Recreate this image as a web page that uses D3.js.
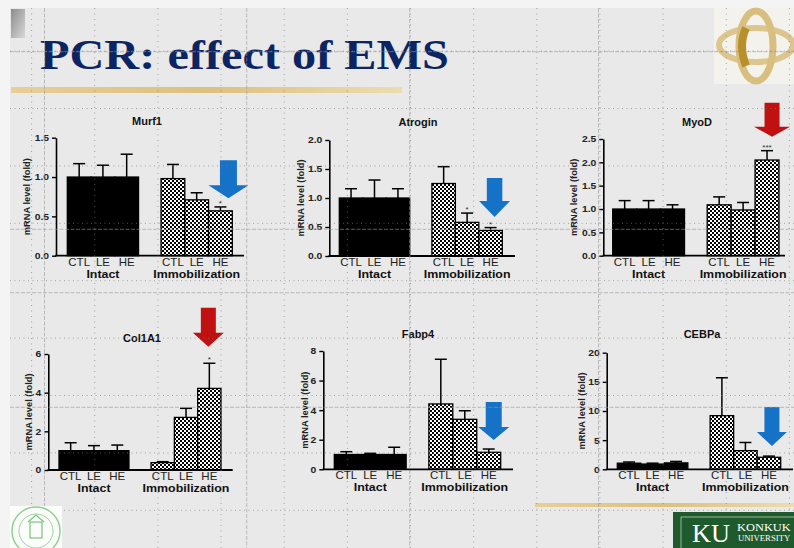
<!DOCTYPE html>
<html>
<head>
<meta charset="utf-8">
<style>
body { margin: 0; background: #f4f4f4; }
svg { display: block; }
</style>
</head>
<body>
<div id="slide"></div>
<script src="https://d3js.org/d3.v7.min.js"></script>
<script>
// data
var genes = ["Murf1", "Atrogin", "MyoD", "Col1A1", "Fabp4", "CEBPa"];
var groups = ["Intact", "Immobilization"];
var treatments = ["CTL", "LE", "HE"];

// order: Intact CTL, LE, HE, Immobilization CTL, LE, HE
var murf1Mean   = [1.00, 1.00, 1.00, 0.98, 0.71, 0.57];
var murf1Err    = [0.17, 0.15, 0.29, 0.18, 0.09, 0.05];
var atroginMean = [1.00, 1.00, 1.00, 1.25, 0.58, 0.44];
var atroginErr  = [0.16, 0.31, 0.16, 0.29, 0.16, 0.05];
var myodMean    = [1.00, 1.00, 1.00, 1.09, 0.98, 2.05];
var myodErr     = [0.18, 0.18, 0.09, 0.17, 0.16, 0.20];
var col1a1Mean  = [1.00, 1.00, 1.00, 0.38, 2.72, 4.22];
var col1a1Err   = [0.41, 0.26, 0.29, 0.05, 0.47, 1.30];
var fabp4Mean   = [1.00, 1.00, 1.00, 4.42, 3.38, 1.15];
var fabp4Err    = [0.19, 0.08, 0.49, 3.02, 0.58, 0.22];
var cebpaMean   = [1.05, 0.90, 1.10, 9.20, 3.20, 2.06];
var cebpaErr    = [0.20, 0.15, 0.25, 6.50, 1.40, 0.20];

var stars = [
  ["", "", "", "", "", "*"],
  ["", "", "", "", "*", "*"],
  ["", "", "", "", "", "***"],
  ["", "", "", "", "", "*"],
  ["", "", "", "", "", ""],
  ["", "", "", "", "", ""]
];

var yMaxes = [1.5, 2.0, 2.5, 6, 8, 20];
var yTicks = [
  [0, 0.5, 1.0, 1.5],
  [0, 0.5, 1.0, 1.5, 2.0],
  [0, 0.5, 1.0, 1.5, 2.0, 2.5],
  [0, 2, 4, 6],
  [0, 2, 4, 6, 8],
  [0, 5, 10, 15, 20]
];
var tickFormats = [".1f", ".1f", ".1f", "d", "d", "d"];
var arrowColors = ["#1672c6", "#1672c6", "#c01010", "#c01010", "#1672c6", "#1672c6"];

var means = [murf1Mean, atroginMean, myodMean, col1a1Mean, fabp4Mean, cebpaMean];
var errs = [murf1Err, atroginErr, myodErr, col1a1Err, fabp4Err, cebpaErr];

// where each little graph sits on the slide
var panels = [
  {ax: 56,    l: 67.3,  r: 232.3, end: 244, top: 137.7, y0: 255.7, tx: 147, ty: 125,   lab: 29, arrow: {dx: 8,  gap: 8.7, w: 40, h: 38, sw: 17, hh: 13}},
  {ax: 329.3, l: 339.3, r: 502.3, end: 515, top: 140,   y0: 256,   tx: 418, ty: 126,   lab: 29, arrow: {dx: 4,  gap: 10.6, w: 31, h: 39, sw: 15.5, hh: 16}},
  {ax: 603.3, l: 612.7, r: 779,   end: 785, top: 139,   y0: 255.7, tx: 697, ty: 126,   lab: 30, arrow: {dx: 5,  gap: 14, w: 36, h: 34, sw: 15, hh: 10}},
  {ax: 48.3,  l: 59,    r: 221,   end: 232.7, top: 354, y0: 470,   tx: 142, ty: 341.5, lab: 20, arrow: {dx: -1, gap: 16.6, w: 31, h: 39, sw: 15, hh: 14}},
  {ax: 323.3, l: 334.3, r: 500.7, end: 513, top: 351,   y0: 469.3, tx: 418, ty: 337.5, lab: 19, arrow: {dx: 5,  gap: 9, w: 31, h: 38, sw: 16, hh: 13}},
  {ax: 606.7, l: 617.3, r: 780.7, end: 793, top: 352.7, y0: 469.3, tx: 702, ty: 337.5, lab: 25, arrow: {dx: 3,  gap: 10, w: 30, h: 39, sw: 15, hh: 14}}
];

var W = 794, H = 548, sx = 1.15;
var sans = "'Liberation Sans', Arial, Helvetica, sans-serif";
var serif = "'Liberation Serif', 'Times New Roman', serif";

var svg = d3.select("#slide").append("svg").attr("width", W).attr("height", H);
var defs = svg.append("defs");

var pat = defs.append("pattern").attr("id", "check")
    .attr("width", 4).attr("height", 4).attr("patternUnits", "userSpaceOnUse");
pat.append("rect").attr("width", 4).attr("height", 4).attr("fill", "#fff");
pat.append("rect").attr("width", 2).attr("height", 2).attr("fill", "#000");
pat.append("rect").attr("x", 2).attr("y", 2).attr("width", 2).attr("height", 2).attr("fill", "#000");

var gold = defs.append("linearGradient").attr("id", "gold");
gold.append("stop").attr("offset", "0").attr("stop-color", "#e6cf98");
gold.append("stop").attr("offset", "0.5").attr("stop-color", "#dcc07e");
gold.append("stop").attr("offset", "1").attr("stop-color", "#ecdcb0");

var tab = defs.append("linearGradient").attr("id", "tab").attr("x1", 0).attr("y1", 0).attr("x2", 1).attr("y2", 1);
tab.append("stop").attr("offset", "0").attr("stop-color", "#8c8c8c");
tab.append("stop").attr("offset", "1").attr("stop-color", "#d8d8d8");

function stext(parent, x, y, str, size, weight, anchor, fam, fill, k) {
  return parent.append("text")
      .attr("transform", "translate(" + x + "," + y + ") scale(" + (k || sx) + ",1)")
      .attr("text-anchor", anchor || "middle")
      .style("font-family", fam || sans)
      .style("font-size", size + "px")
      .style("font-weight", weight || "normal")
      .attr("fill", fill || "#111")
      .text(str);
}

// slide background
svg.append("rect").attr("x", 10).attr("y", 8).attr("width", W - 10).attr("height", H - 8).attr("fill", "#e9e9e9");
svg.append("rect").attr("x", 11).attr("y", 9).attr("width", 14).attr("height", 29).attr("fill", "url(#tab)");

stext(svg, 40, 69, "PCR: effect of EMS", 42, "bold", "start", serif, "#0d2463");
svg.append("rect").attr("x", 11).attr("y", 87).attr("width", 391).attr("height", 6).attr("fill", "url(#gold)");
svg.append("rect").attr("x", 535).attr("y", 503).attr("width", 259).attr("height", 4).attr("fill", "url(#gold)");

// top right logo
var logo = svg.append("g");
logo.append("rect").attr("x", 714).attr("y", 8).attr("width", 80).attr("height", 76).attr("fill", "#f4f2ec");
logo.append("ellipse").attr("cx", 756).attr("cy", 45).attr("rx", 37).attr("ry", 17)
    .attr("fill", "none").attr("stroke", "#dcc68e").attr("stroke-width", 6);
logo.append("ellipse").attr("cx", 756).attr("cy", 46).attr("rx", 17).attr("ry", 35)
    .attr("fill", "none").attr("stroke", "#d8bf80").attr("stroke-width", 7);
logo.append("path").attr("d", "M746,28 Q738,45 746,66").attr("fill", "none")
    .attr("stroke", "#b88f2c").attr("stroke-width", 8);

// the six bar graphs
panels.forEach(function(p, i) {
  var g = svg.append("g");
  var y = d3.scaleLinear().domain([0, yMaxes[i]]).range([p.y0, p.top]);
  var xg = d3.scaleBand().domain(groups).range([p.l, p.r]).paddingInner(0.24);
  var xt = d3.scaleBand().domain(treatments).range([0, xg.bandwidth()]);

  var rows = [];
  groups.forEach(function(gr, gi) {
    treatments.forEach(function(t, ti) {
      var k = gi * 3 + ti;
      rows.push({group: gr, trt: t, mean: means[i][k], err: errs[i][k], star: stars[i][k]});
    });
  });
  function cx(d) { return xg(d.group) + xt(d.trt) + xt.bandwidth() / 2; }

  // error bars (upper only)
  var capW = 12;
  g.selectAll("line.err").data(rows).join("line")
      .attr("x1", cx).attr("x2", cx)
      .attr("y1", function(d) { return y(d.mean); })
      .attr("y2", function(d) { return y(d.mean + d.err); })
      .attr("stroke", "#000").attr("stroke-width", 1.5);
  g.selectAll("line.cap").data(rows).join("line")
      .attr("x1", function(d) { return cx(d) - capW / 2; })
      .attr("x2", function(d) { return cx(d) + capW / 2; })
      .attr("y1", function(d) { return y(d.mean + d.err); })
      .attr("y2", function(d) { return y(d.mean + d.err); })
      .attr("stroke", "#000").attr("stroke-width", 1.5);

  g.selectAll("rect.bar").data(rows).join("rect")
      .attr("x", function(d) { return xg(d.group) + xt(d.trt); })
      .attr("y", function(d) { return y(d.mean); })
      .attr("width", xt.bandwidth())
      .attr("height", function(d) { return y(0) - y(d.mean); })
      .attr("fill", function(d) { return d.group == "Intact" ? "#000" : "url(#check)"; })
      .attr("stroke", "#000").attr("stroke-width", 1.3);

  rows.forEach(function(d) {
    if (d.star) stext(g, cx(d), y(d.mean + d.err) - 1, d.star, 8, "normal", "middle", sans, "#333", 1);
  });

  // axes
  var axis = d3.axisLeft(y).tickValues(yTicks[i]).tickSize(4).tickSizeOuter(0)
      .tickFormat(d3.format(tickFormats[i]));
  var ag = g.append("g").attr("transform", "translate(" + p.ax + ",0)").call(axis)
      .style("font-family", sans);
  ag.select(".domain").attr("stroke-width", 1.6);
  ag.selectAll(".tick line").attr("stroke-width", 1.4);
  ag.selectAll(".tick text")
      .attr("transform", "scale(" + sx + ",1)")
      .attr("x", -7 / sx)
      .attr("fill", "#222")
      .style("font-size", "9px").style("font-weight", "bold");

  g.append("line").attr("x1", p.ax - 0.8).attr("x2", p.end)
      .attr("y1", y(0)).attr("y2", y(0))
      .attr("stroke", "#000").attr("stroke-width", 1.8);

  g.append("text")
      .attr("transform", "translate(" + (p.ax - p.lab) + "," + ((p.y0 + p.top) / 2) + ") rotate(-90)")
      .attr("text-anchor", "middle").attr("dy", "0.35em")
      .style("font-family", sans).style("font-size", "9.3px").style("font-weight", "bold")
      .attr("fill", "#222")
      .text("mRNA level (fold)");

  stext(g, p.tx, p.ty, genes[i], 10, "bold", "middle", sans, "#111", 1.1);

  rows.forEach(function(d) {
    stext(g, cx(d), y(0) + 10, d.trt, 10, "normal", "middle", sans, "#222");
  });
  groups.forEach(function(gr) {
    stext(g, xg(gr) + xg.bandwidth() / 2, y(0) + 22, gr, 10.8, "bold", "middle", sans, "#111");
  });

  // annotation arrow over the HE immobilization bar
  var he = rows[5], a = p.arrow;
  var ax0 = cx(he) + a.dx, tip = y(he.mean + he.err) - a.gap, top = tip - a.h, neck = tip - a.hh;
  g.append("path")
      .attr("d", "M" + (ax0 - a.sw / 2) + "," + top +
                 "L" + (ax0 + a.sw / 2) + "," + top +
                 "L" + (ax0 + a.sw / 2) + "," + neck +
                 "L" + (ax0 + a.w / 2) + "," + neck +
                 "L" + ax0 + "," + tip +
                 "L" + (ax0 - a.w / 2) + "," + neck +
                 "L" + (ax0 - a.sw / 2) + "," + neck + "Z")
      .attr("fill", arrowColors[i]);
});

// slide guide lines
var grid = svg.append("g").attr("fill", "none");
d3.range(13).forEach(function(k) {
  grid.append("line").attr("x1", 31.6 + k * 63.15).attr("x2", 31.6 + k * 63.15)
      .attr("y1", 8).attr("y2", H)
      .attr("stroke", "#7a7a7a").attr("stroke-opacity", 0.65).attr("stroke-dasharray", "1,4.5");
});
d3.range(9).forEach(function(k) {
  grid.append("line").attr("x1", 10).attr("x2", W)
      .attr("y1", 51.1 + k * 57.4).attr("y2", 51.1 + k * 57.4)
      .attr("stroke", "#7a7a7a").attr("stroke-opacity", 0.65).attr("stroke-dasharray", "1,3.5");
});
[44.5, 246.7, 409.7, 598.5].forEach(function(x) {
  grid.append("line").attr("x1", x).attr("x2", x).attr("y1", 8).attr("y2", H)
      .attr("stroke", "#9a9a9a").attr("stroke-opacity", 0.6).attr("stroke-dasharray", "4,1.5");
});
[51.7, 229.3, 292.7, 407.3].forEach(function(y) {
  grid.append("line").attr("x1", 10).attr("x2", W).attr("y1", y).attr("y2", y)
      .attr("stroke", "#9a9a9a").attr("stroke-opacity", 0.6).attr("stroke-dasharray", "4,1.5");
});

// bottom left seal
var seal = svg.append("g");
seal.append("rect").attr("x", 10).attr("y", 506).attr("width", 52).attr("height", 42).attr("fill", "#fbfdfb");
seal.append("circle").attr("cx", 36).attr("cy", 531).attr("r", 24).attr("fill", "none").attr("stroke", "#8fd08f").attr("stroke-width", 1.5);
seal.append("circle").attr("cx", 36).attr("cy", 531).attr("r", 17).attr("fill", "none").attr("stroke", "#9ad49a").attr("stroke-width", 1);
seal.append("rect").attr("x", 30).attr("y", 522).attr("width", 12).attr("height", 16).attr("fill", "none").attr("stroke", "#7cc47c").attr("stroke-width", 1.2);
seal.append("path").attr("d", "M28,522 L36,515 L44,522").attr("fill", "none").attr("stroke", "#7cc47c").attr("stroke-width", 1.2);

// bottom right university box
var ku = svg.append("g");
ku.append("rect").attr("x", 673).attr("y", 512).attr("width", 121).attr("height", 36).attr("fill", "#1f5a2c");
ku.append("rect").attr("x", 681).attr("y", 517).attr("width", 120).attr("height", 40)
    .attr("fill", "none").attr("stroke", "#b7cdb0").attr("stroke-width", 0.8);
stext(ku, 692, 541.5, "KU", 25, "normal", "start", serif, "#fff", 1.05);
stext(ku, 737, 530.5, "KONKUK", 10.8, "normal", "start", serif, "#fff");
stext(ku, 738, 540.5, "UNIVERSITY", 7.6, "normal", "start", serif, "#fff");
</script>
</body>
</html>
